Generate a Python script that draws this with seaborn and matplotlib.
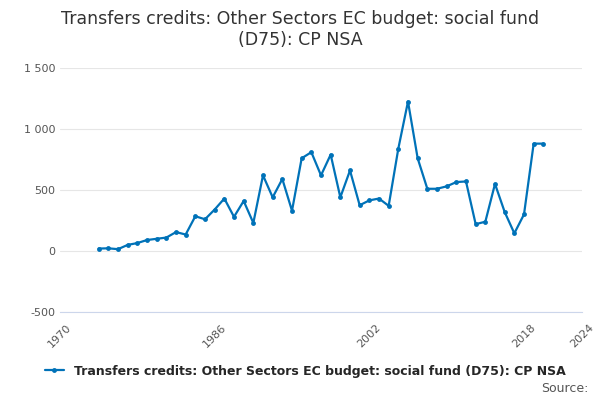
import matplotlib
matplotlib.use("Agg")
import matplotlib.pyplot as plt
import seaborn as sns
import pandas as pd

years = list(range(1974, 2021))
values = [20, 22, 15, 50, 65, 90, 100, 110, 155, 135, 285, 260, 340, 430, 280,
          410, 230, 620, 440, 590, 330, 760, 810, 620, 790, 440, 660, 375, 415,
          430, 370, 840, 1225, 760, 510, 510, 530, 565, 570, 220, 240, 550, 320,
          145, 300, 880, 880]
label = "Transfers credits: Other Sectors EC budget: social fund (D75): CP NSA"
df = pd.DataFrame({"year": years, "value": values})

sns.set_style("white")
plt.rcParams['font.family'] = ['DejaVu Sans']
fig, ax = plt.subplots(figsize=(6, 4), dpi=100)
fig.subplots_adjust(left=0.1, right=0.97, top=0.83, bottom=0.22)
sns.lineplot(data=df, x="year", y="value", ax=ax, color="#0072b8", marker="o",
             markersize=3.5, markeredgewidth=0, linewidth=1.6, label=label)
ax.set_xlim(1970, 2024)
ax.set_ylim(-500, 1500)
ax.set_xticks([1970, 1986, 2002, 2018, 2024])
ax.set_yticks([-500, 0, 500, 1000, 1500])
ax.set_yticklabels(["-500", "0", "500", "1 000", "1 500"])
ax.tick_params(axis="x", labelrotation=45, labelsize=8, colors="#555555", length=4)
ax.tick_params(axis="y", labelsize=8, colors="#555555", length=0)
ax.grid(axis="y", color="#e6e6e6", linewidth=0.8)
for s in ["top", "right", "left"]:
    ax.spines[s].set_visible(False)
ax.spines["bottom"].set_color("#ccd6eb")
ax.set_xlabel("")
ax.set_ylabel("")
fig.suptitle("Transfers credits: Other Sectors EC budget: social fund\n(D75): CP NSA",
             fontsize=12.5, y=0.975, color="#333333")
ax.legend(loc="upper center", bbox_to_anchor=(0.47, -0.17), frameon=False,
          prop={"size": 9, "weight": "bold"}, handlelength=1.5)
fig.text(0.98, 0.02, "Source:", ha="right", fontsize=9, color="#555555")
fig.savefig("out.png")
